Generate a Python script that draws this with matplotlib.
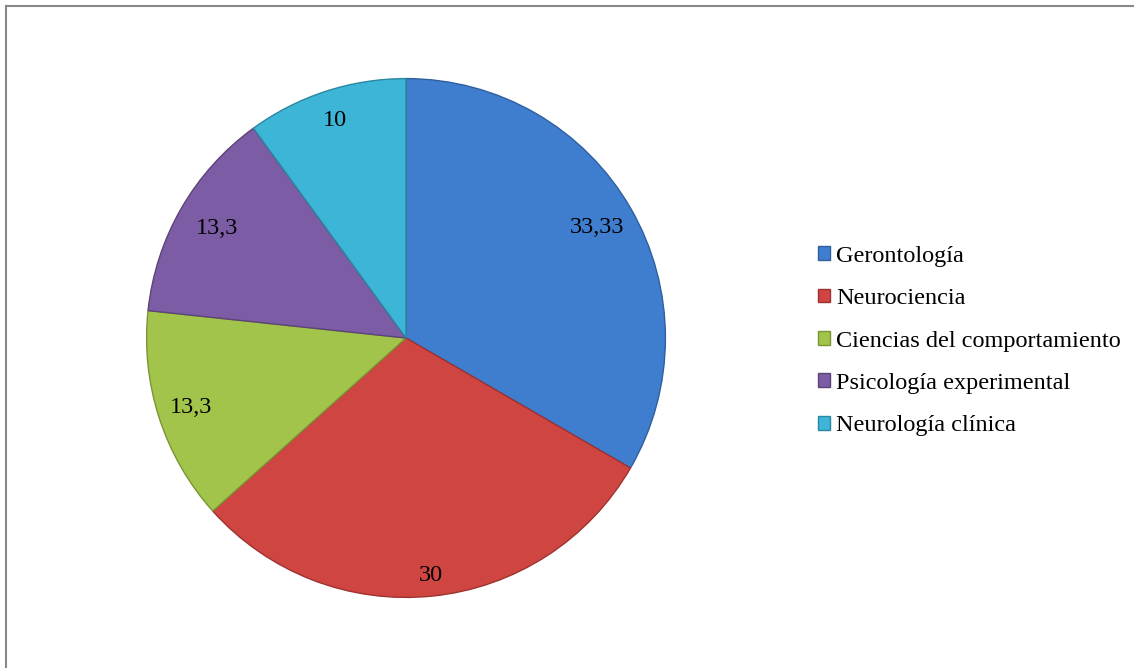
import numpy as np
import matplotlib
matplotlib.use("Agg")
import matplotlib.pyplot as plt
from matplotlib.lines import Line2D

# datos
categorias = ["Gerontología", "Neurociencia", "Ciencias del comportamiento",
              "Psicología experimental", "Neurología clínica"]
valores = [33.33, 30, 13.3, 13.3, 10]
etiquetas = ["33,33", "30", "13,3", "13,3", "10"]

colores = ["#3f7dcf", "#cf4541", "#a2c44a", "#7c5ca4", "#3db5d6"]
bordes = ["#2f5f9f", "#9e3230", "#7a9535", "#5c4479", "#2b87a1"]
dist_etiquetas = [0.85, 0.92, 0.87, 0.84, 0.88]

plt.rcParams["font.family"] = ["Liberation Serif", "DejaVu Serif"]

fig = plt.figure(figsize=(11.34, 6.68), dpi=100)

# marco gris
fig.add_artist(Line2D([6 / 1134, 6 / 1134], [0, 1 - 6 / 668], color="#888888", lw=1.5,
                      transform=fig.transFigure))
fig.add_artist(Line2D([6 / 1134, 1], [1 - 6 / 668, 1 - 6 / 668], color="#888888", lw=1.5,
                      transform=fig.transFigure))

ax = fig.add_axes([144 / 1134, 68 / 668, 524 / 1134, 524 / 668])
wedges, _ = ax.pie(valores, colors=colores, startangle=90, counterclock=False,
                   radius=1, wedgeprops=dict(linewidth=1.0))
for w, b in zip(wedges, bordes):
    w.set_edgecolor(b)

for w, lab, d in zip(wedges, etiquetas, dist_etiquetas):
    ang = np.deg2rad((w.theta1 + w.theta2) / 2)
    ax.text(d * np.cos(ang), d * np.sin(ang), lab, ha="center", va="center",
            fontsize=17.5, color="black")

ax.set_xlim(-1.01, 1.01)
ax.set_ylim(-1.01, 1.01)
ax.set_aspect("equal")
ax.axis("off")

fig.legend(wedges, categorias, loc="center left",
           bbox_to_anchor=(818 / 1134, 1 - 341 / 668),
           frameon=False, fontsize=17.5, handlelength=0.5, handleheight=0.5,
           handletextpad=0.24, labelspacing=0.88, borderpad=0, borderaxespad=0)

fig.savefig("out.png", dpi=100, facecolor="white")
